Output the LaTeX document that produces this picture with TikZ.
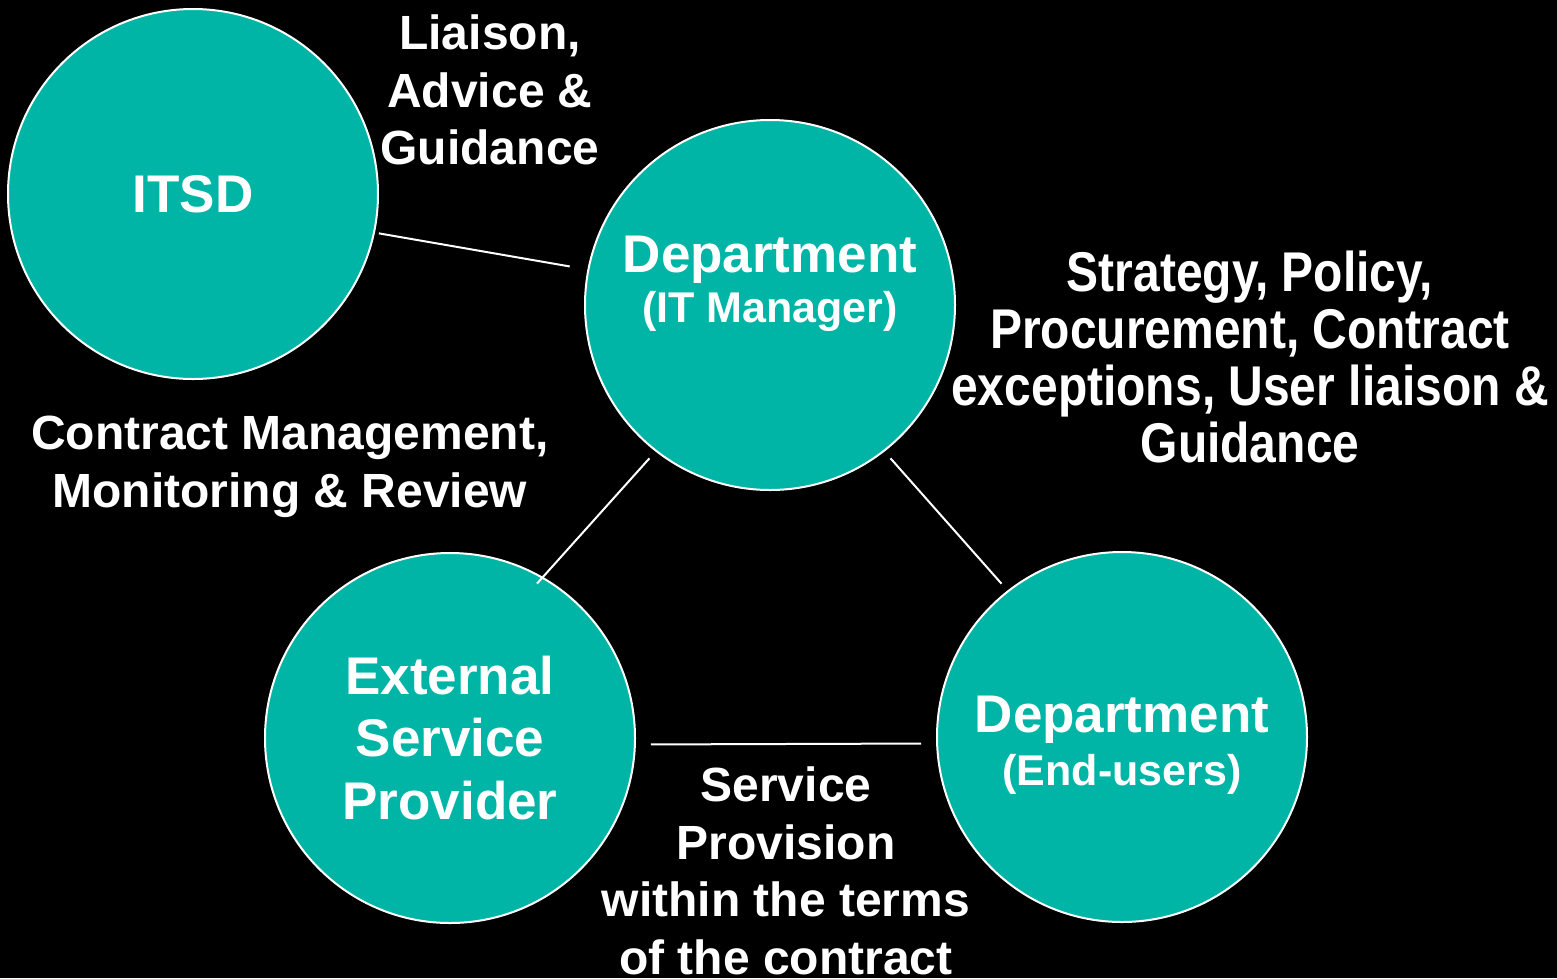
\documentclass[tikz,border=0pt]{standalone}
\usepackage{fontspec}
\setmainfont{Liberation Sans}
\newfontfamily\tallsans{Liberation Sans}[FakeStretch=0.857]
\usepackage{xcolor}
\definecolor{hubteal}{RGB}{0,181,166}

\begin{document}
\begin{tikzpicture}[x=1pt, y=-1pt,
  hub/.style={
    circle, minimum size=370pt, inner sep=0pt,
    draw=white, line width=2pt,
    fill=hubteal,
    text=white, align=center,
    font=\bfseries\fontsize{53}{62.5}\selectfont
  },
  hubtext/.style={text=white, align=center, font=\bfseries\fontsize{53}{62.5}\selectfont},
  note/.style={text=white, align=center, font=\bfseries\fontsize{48}{57.5}\selectfont},
  link/.style={draw=white, line width=2pt}
]
\fill[black] (0,0) rectangle (1557,978);
\useasboundingbox (0,0) rectangle (1557,978);

\node[hub] (itsd) at (193,194) {ITSD};
\node[hub, label={[hubtext, yshift=21pt]center:{Department\\[-12pt]{\fontsize{43}{51}\selectfont (IT Manager)}}}] (deptit) at (770,305) {};
\node[hub] (esp) at (450,738) {External\\Service\\Provider};
\node[hub, label={[hubtext, yshift=-8pt]center:{Department\\[-9.5pt]{\fontsize{43}{51}\selectfont (End-users)}}}] (enduser) at (1122,737) {};

\draw[link, shorten <=4pt, shorten >=18pt] (itsd.-12) -- (deptit.169);
\draw[link, shorten <=9pt, shorten >=-9pt] (deptit.-128) -- (esp.60);
\draw[link, shorten <=9pt, shorten >=9pt] (deptit.-52) -- (enduser.128);
\draw[link, shorten <=15pt, shorten >=15pt] (esp.-2.5) -- (enduser.182.5);

\node[note] (liaison) at (490,90) {Liaison,\\Advice \&\\Guidance};
\node[note, font=\tallsans\bfseries\fontsize{56}{57}\selectfont] (strategy) at (1250,357)
  {Strategy, Policy,\\Procurement, Contract\\exceptions, User liaison \&\\Guidance};
\node[note] (review) at (290,467) {Contract Management,\\Monitoring \& Review};
\node[note] (provision) at (786,871) {Service\\Provision\\within the terms\\of the contract};
\end{tikzpicture}
\end{document}
